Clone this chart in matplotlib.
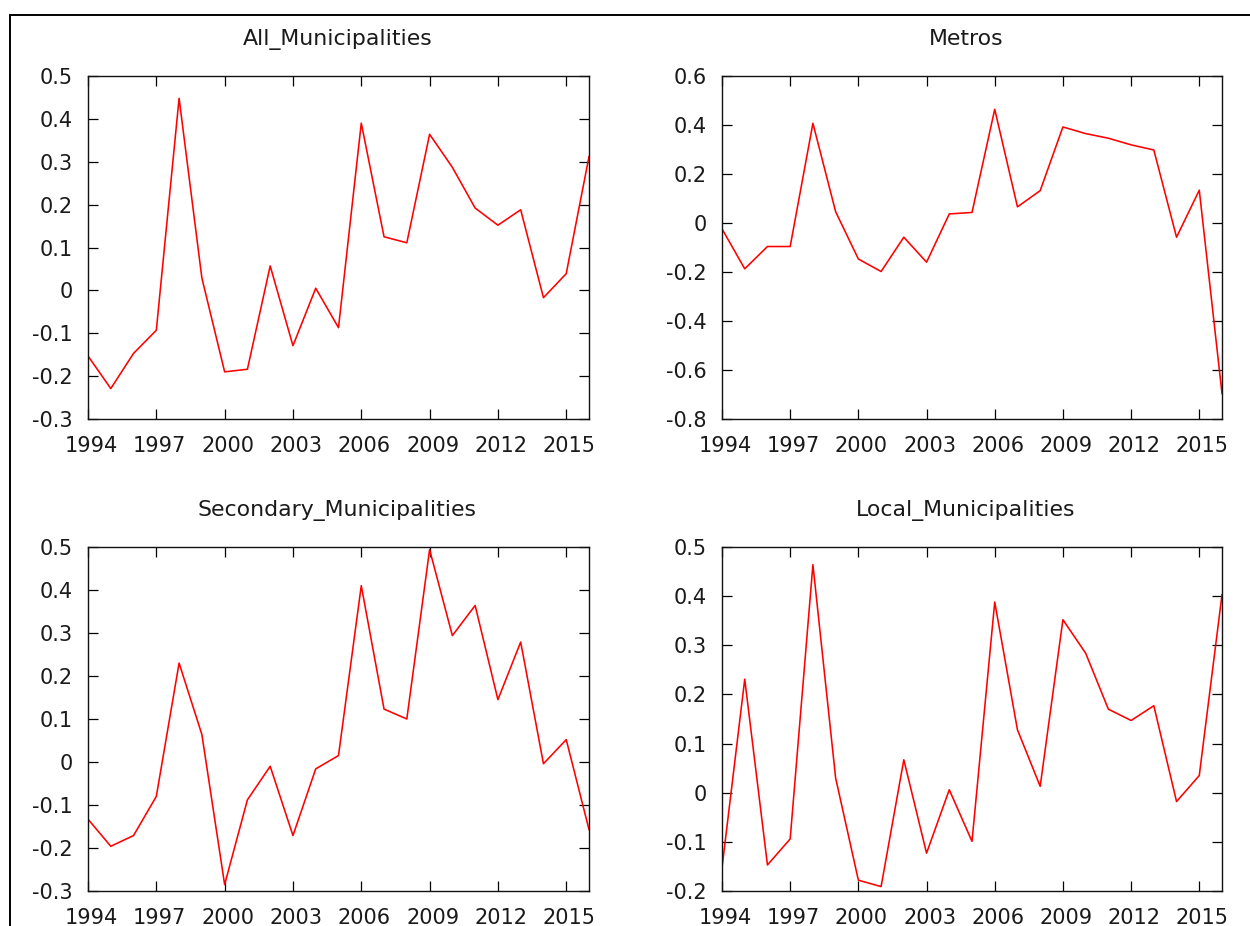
import matplotlib
matplotlib.use("Agg")
import matplotlib.pyplot as plt
from matplotlib.lines import Line2D
from matplotlib.ticker import FixedLocator, FuncFormatter
from matplotlib.transforms import ScaledTranslation

years = list(range(1994, 2017))

all_municipalities = [-0.153, -0.229, -0.147, -0.093, 0.448, 0.029, -0.190, -0.184,
                      0.057, -0.129, 0.005, -0.087, 0.390, 0.125, 0.111, 0.364,
                      0.287, 0.192, 0.152, 0.188, -0.017, 0.039, 0.312]
metros = [-0.024, -0.187, -0.096, -0.096, 0.407, 0.046, -0.147, -0.198,
          -0.058, -0.160, 0.037, 0.043, 0.464, 0.066, 0.132, 0.392,
          0.365, 0.346, 0.319, 0.298, -0.058, 0.134, -0.696]
secondary_municipalities = [-0.133, -0.196, -0.171, -0.080, 0.230, 0.064, -0.285, -0.088,
                            -0.010, -0.171, -0.016, 0.015, 0.410, 0.123, 0.100, 0.494,
                            0.294, 0.364, 0.145, 0.279, -0.004, 0.052, -0.157]
local_municipalities = [-0.153, 0.231, -0.147, -0.094, 0.464, 0.030, -0.178, -0.191,
                        0.067, -0.123, 0.006, -0.099, 0.388, 0.128, 0.013, 0.352,
                        0.284, 0.170, 0.147, 0.177, -0.018, 0.035, 0.403]

titles = ["All_Municipalities", "Metros", "Secondary_Municipalities", "Local_Municipalities"]
series = [all_municipalities, metros, secondary_municipalities, local_municipalities]
x_ticks = [1994, 1997, 2000, 2003, 2006, 2009, 2012, 2015]
y_ticks = [
    [-0.3, -0.2, -0.1, 0, 0.1, 0.2, 0.3, 0.4, 0.5],
    [-0.8, -0.6, -0.4, -0.2, 0, 0.2, 0.4, 0.6],
    [-0.3, -0.2, -0.1, 0, 0.1, 0.2, 0.3, 0.4, 0.5],
    [-0.2, -0.1, 0, 0.1, 0.2, 0.3, 0.4, 0.5],
]

plt.rcParams['font.family'] = ['DejaVu Sans']
plt.rcParams['axes.unicode_minus'] = False

W, H = 1250, 926
fig = plt.figure(figsize=(W / 100, H / 100), dpi=100)

# pixel boxes: left, top, right, bottom
boxes = [(88, 76, 589, 419), (722, 76, 1222, 419),
         (88, 547, 589, 891), (722, 547, 1222, 891)]
title_x = [0.498, 0.488, 0.498, 0.488]

fmt = FuncFormatter(lambda v, p: f"{round(v, 3):g}")
shift = ScaledTranslation(3 / 100, 0, fig.dpi_scale_trans)

for box, title, vals, yt, tx in zip(boxes, titles, series, y_ticks, title_x):
    l, t, r, b = box
    ax = fig.add_axes([l / W, (H - b) / H, (r - l) / W, (b - t) / H])
    ax.plot(years, vals, color='#ff0000', lw=1.15)
    ax.set_xlim(1994, 2016)
    ax.set_ylim(yt[0], yt[-1])
    ax.xaxis.set_major_locator(FixedLocator(x_ticks))
    ax.yaxis.set_major_locator(FixedLocator(yt))
    ax.yaxis.set_major_formatter(fmt)
    ax.tick_params(direction='in', length=7.2, width=0.9, top=True, right=True,
                   labelsize=15, colors='black', labelcolor='#1a1a1a')
    ax.tick_params(axis='y', pad=11)
    ax.tick_params(axis='x', pad=12)
    for lab in ax.get_xticklabels():
        lab.set_transform(lab.get_transform() + shift)
    for s in ax.spines.values():
        s.set_linewidth(1.0)
        s.set_color('#111111')
    ax.set_title(title, fontsize=15.8, pad=22.5, color='#1a1a1a', x=tx)

# outer border (cropped screenshot frame)
fig.add_artist(Line2D([10 / W, 1.0], [1 - 15 / H, 1 - 15 / H], transform=fig.transFigure,
                      color='black', lw=1.4))
fig.add_artist(Line2D([10 / W, 10 / W], [0.0, 1 - 15 / H], transform=fig.transFigure,
                      color='black', lw=1.4))

fig.savefig("out.png", dpi=100)
